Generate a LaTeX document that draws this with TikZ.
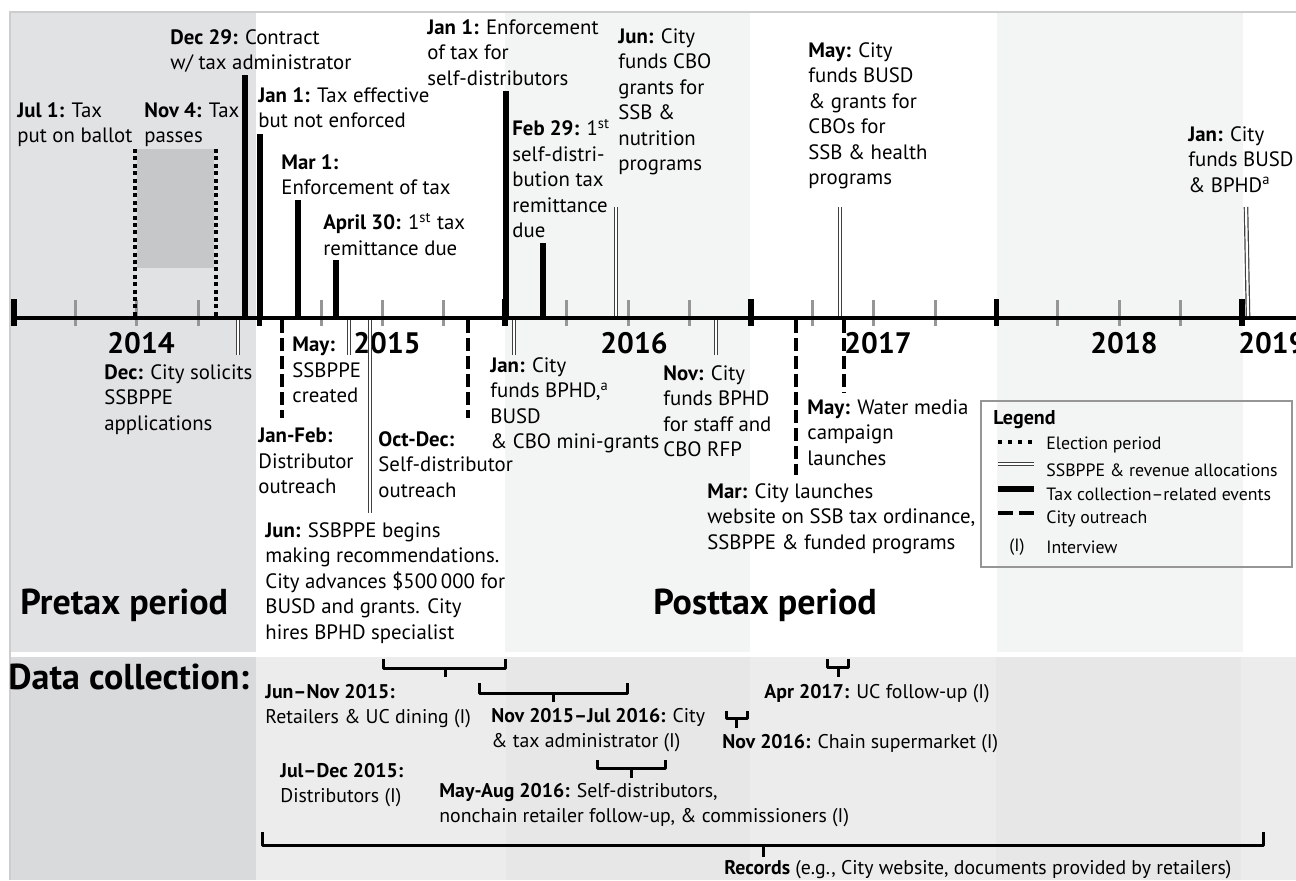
\documentclass[tikz,border=0pt]{standalone}
\usepackage{fontspec}
\setmainfont{PT Sans}
\usetikzlibrary{positioning}
\usepackage{xcolor}

\definecolor{pretaxgray}{RGB}{225,226,228}
\definecolor{yearband}{RGB}{243,244,244}
\definecolor{electfill}{RGB}{198,199,201}
\definecolor{datadark}{RGB}{217,218,219}
\definecolor{datamid}{RGB}{231,231,231}
\definecolor{datalight}{RGB}{236,236,236}
\definecolor{tickgray}{RGB}{150,150,150}
\definecolor{framegray}{RGB}{205,205,205}

\begin{document}
\begin{tikzpicture}[x=0.5pt, y=-0.5pt,
  event/.style={anchor=north west, inner sep=0pt, align=left, font=\fontsize{10.4}{12.75}\selectfont},
  datanote/.style={anchor=north west, inner sep=0pt, align=left, font=\fontsize{9.9}{12.5}\selectfont},
  legendtext/.style={anchor=west, inner sep=0pt, font=\fontsize{8.9}{11}\selectfont},
  yearlabel/.style={inner sep=0pt, font=\fontsize{14.8}{16}\selectfont\bfseries},
  period/.style={anchor=west, inner sep=0pt, font=\fontsize{18}{20}\selectfont\bfseries},
  taxline/.style={line width=2.6pt},
  outreach/.style={line width=2pt, dash pattern=on 6.5pt off 2.5pt},
  election/.style={line width=2pt, dash pattern=on 2pt off 1.7pt},
  alloc/.style={draw=black!75, double=white, line width=0.6pt, double distance=1.1pt},
  bracket/.style={line width=1.5pt, line join=round},
]
  \useasboundingbox (0,0) rectangle (1296,880);
  \fill[white] (0,0) rectangle (1296,880);

  % background bands
  \fill[pretaxgray] (10,12) rectangle (256,652);
  \fill[yearband] (505,12) rectangle (750,652);
  \fill[yearband] (997,12) rectangle (1243,652);
  \fill[datadark] (10,657) rectangle (256,880);
  \fill[datalight] (256,657) rectangle (506,880);
  \fill[datamid] (506,657) rectangle (750,880);
  \fill[datalight] (750,657) rectangle (996,880);
  \fill[datamid] (996,657) rectangle (1241,880);
  \fill[datalight] (1241,657) rectangle (1296,880);
  \draw[framegray, line width=0.6pt] (10,880) -- (10,12) -- (1296,12);
  \fill[electfill] (137,149) rectangle (214,268);

  % time axis
  \foreach \yr in {0,...,4}
    \foreach \q in {1,2,3}
      \draw[tickgray, line width=1.5pt] ({14+245.6*(\yr+\q/4)},300) -- ++(0,26);
  \draw[line width=1.75pt] (14,318) -- (1296,318);
  \foreach \yr in {0,...,5}
    \draw[line width=2.8pt] ({14+245.6*\yr},299) -- ++(0,27);

  \node[yearlabel] (y2014) at (141,343) {2014};
  \node[yearlabel] (y2015) at (387,343) {2015};
  \node[yearlabel] (y2016) at (634,343) {2016};
  \node[yearlabel] (y2017) at (878,343) {2017};
  \node[yearlabel] (y2018) at (1124,343) {2018};
  \node[yearlabel, anchor=west] (y2019) at (1238,343) {2019};

  % event markers
  \draw[election] (135,149) -- (135,316);
  \draw[election] (216,149) -- (216,316);
  \draw[taxline] (245,75) -- (245,316);
  \draw[taxline] (260,134) -- (260,318);
  \draw[taxline] (298,200) -- (298,316);
  \draw[taxline] (336,260) -- (336,316);
  \draw[taxline] (506,91) -- (506,318);
  \draw[taxline] (543,243) -- (543,316);
  \draw[alloc] (616,207) -- (616,316);
  \draw[alloc] (840,207) -- (840,316);
  \draw[alloc] (1246,207) -- (1248,316);

  \draw[alloc] (238,320) -- (238,355);
  \draw[alloc] (349,320) -- (349,355);
  \draw[alloc] (370,320) -- (370,513);
  \draw[alloc] (514,320) -- (514,355);
  \draw[alloc] (716,320) -- (716,355);
  \draw[outreach] (282,320) -- (282,418);
  \draw[outreach] (468,320) -- (468,418);
  \draw[outreach] (796,320) -- (796,475);
  \draw[outreach] (844,320) -- (844,393);

  % event labels
  \node[event] (jul1) at (17,102) {\textbf{Jul 1:} Tax\\put on ballot};
  \node[event] (nov4) at (144,102) {\textbf{Nov 4:} Tax\\passes};
  \node[event] (dec29) at (170,29) {\textbf{Dec 29:} Contract\\w/ tax administrator};
  \node[event] (jan15) at (258,87) {\textbf{Jan 1:} Tax effective\\but not enforced};
  \node[event] (mar15) at (281,154) {\textbf{Mar 1:}\\Enforcement of tax};
  \node[event] (apr15) at (323,213) {\textbf{April 30:} 1\textsuperscript{st} tax\\remittance due};
  \node[event] (jan16) at (427,19) {\textbf{Jan 1:} Enforcement\\of tax for\\self-distributors};
  \node[event] (feb16) at (512,119) {\textbf{Feb 29:} 1\textsuperscript{st}\\self-distri-\\bution tax\\remittance\\due};
  \node[event] (jun16) at (618,28) {\textbf{Jun:} City\\funds CBO\\grants for\\SSB \&\\nutrition\\programs};
  \node[event] (may17) at (808,42) {\textbf{May:} City\\funds BUSD\\\& grants for\\CBOs for\\SSB \& health\\programs};
  \node[event] (jan19) at (1188,126) {\textbf{Jan:} City\\funds BUSD\\\& BPHD\textsuperscript{a}};

  \node[event] (dec14) at (104,364) {\textbf{Dec:} City solicits\\SSBPPE\\applications};
  \node[event] (janfeb) at (258,428) {\textbf{Jan-Feb:}\\Distributor\\outreach};
  \node[event] (may15) at (292,337) {\textbf{May:}\\SSBPPE\\created};
  \node[event] (jun15) at (265,522) {\textbf{Jun:} SSBPPE begins\\making recommendations.\\City advances \$500\,000 for\\BUSD and grants. City\\hires BPHD specialist};
  \node[event] (octdec) at (378,431) {\textbf{Oct-Dec:}\\Self-distributor\\outreach};
  \node[event] (jan16b) at (490,357) {\textbf{Jan:} City\\funds BPHD,\textsuperscript{a}\\BUSD\\\& CBO mini-grants};
  \node[event] (nov16) at (663,365) {\textbf{Nov:} City\\funds BPHD\\for staff and\\CBO RFP};
  \node[event] (mar17) at (707,483) {\textbf{Mar:} City launches\\website on SSB tax ordinance,\\SSBPPE \& funded programs};
  \node[event] (may17b) at (807,399) {\textbf{May:} Water media\\campaign\\launches};

  % legend
  \draw[tickgray, line width=0.8pt] (981,401) rectangle (1292,567);
  \node[legendtext, font=\fontsize{10}{12}\selectfont\bfseries] (legend) at (993,420) {Legend};
  \draw[line width=2pt, dash pattern=on 2pt off 3pt] (998,442) -- (1034,442);
  \draw[alloc] (998,464) -- (1034,464);
  \draw[taxline] (998,489) -- (1034,489);
  \draw[line width=2pt, dash pattern=on 7.5pt off 3pt] (998,513) -- (1034,513);
  \node[legendtext] (lgelect) at (1046,445) {Election period};
  \node[legendtext] (lgalloc) at (1046,470) {SSBPPE \& revenue allocations};
  \node[legendtext] (lgtax) at (1046,494) {Tax collection–related events};
  \node[legendtext] (lgcity) at (1046,519) {City outreach};
  \node[legendtext, anchor=center] (lgi) at (1017,547) {(I)};
  \node[legendtext] (lgint) at (1046,547) {Interview};

  % periods
  \node[period] (pretax) at (20,605) {Pretax period};
  \node[period] (posttax) at (653,605) {Posttax period};
  \node[period] (datacoll) at (8,677) {Data collection:};

  % data collection
  \foreach \xa/\xb/\xm/\ya/\yb/\yc in {383/505/445/659/668/677, 479/627/553/683/693/702,
      597/665/631/760/768/778, 827/848/838/659/667/677, 726/747/736/711/718/728,
      262/1263/763/832/845/857}
    \draw[bracket] (\xa,\ya) -- (\xa,\yb) -- (\xb,\yb) -- (\xb,\ya) (\xm,\yb) -- (\xm,\yc);

  \node[datanote] (junnov) at (265,684) {\textbf{Jun–Nov 2015:}\\Retailers \& UC dining (I)};
  \node[datanote] (novjul) at (491,708) {\textbf{Nov 2015–Jul 2016:} City\\\& tax administrator (I)};
  \node[datanote] (juldec) at (280,763) {\textbf{Jul–Dec 2015:}\\Distributors (I)};
  \node[datanote] (mayaug) at (439,783) {\textbf{May-Aug 2016:} Self-distributors,\\nonchain retailer follow-up, \& commissioners (I)};
  \node[datanote] (apr17) at (764,684) {\textbf{Apr 2017:} UC follow-up (I)};
  \node[datanote] (nov16i) at (722,734) {\textbf{Nov 2016:} Chain supermarket (I)};
  \node[datanote] (records) at (724,860) {\textbf{Records} (e.g., City website, documents provided by retailers)};
\end{tikzpicture}
\end{document}
